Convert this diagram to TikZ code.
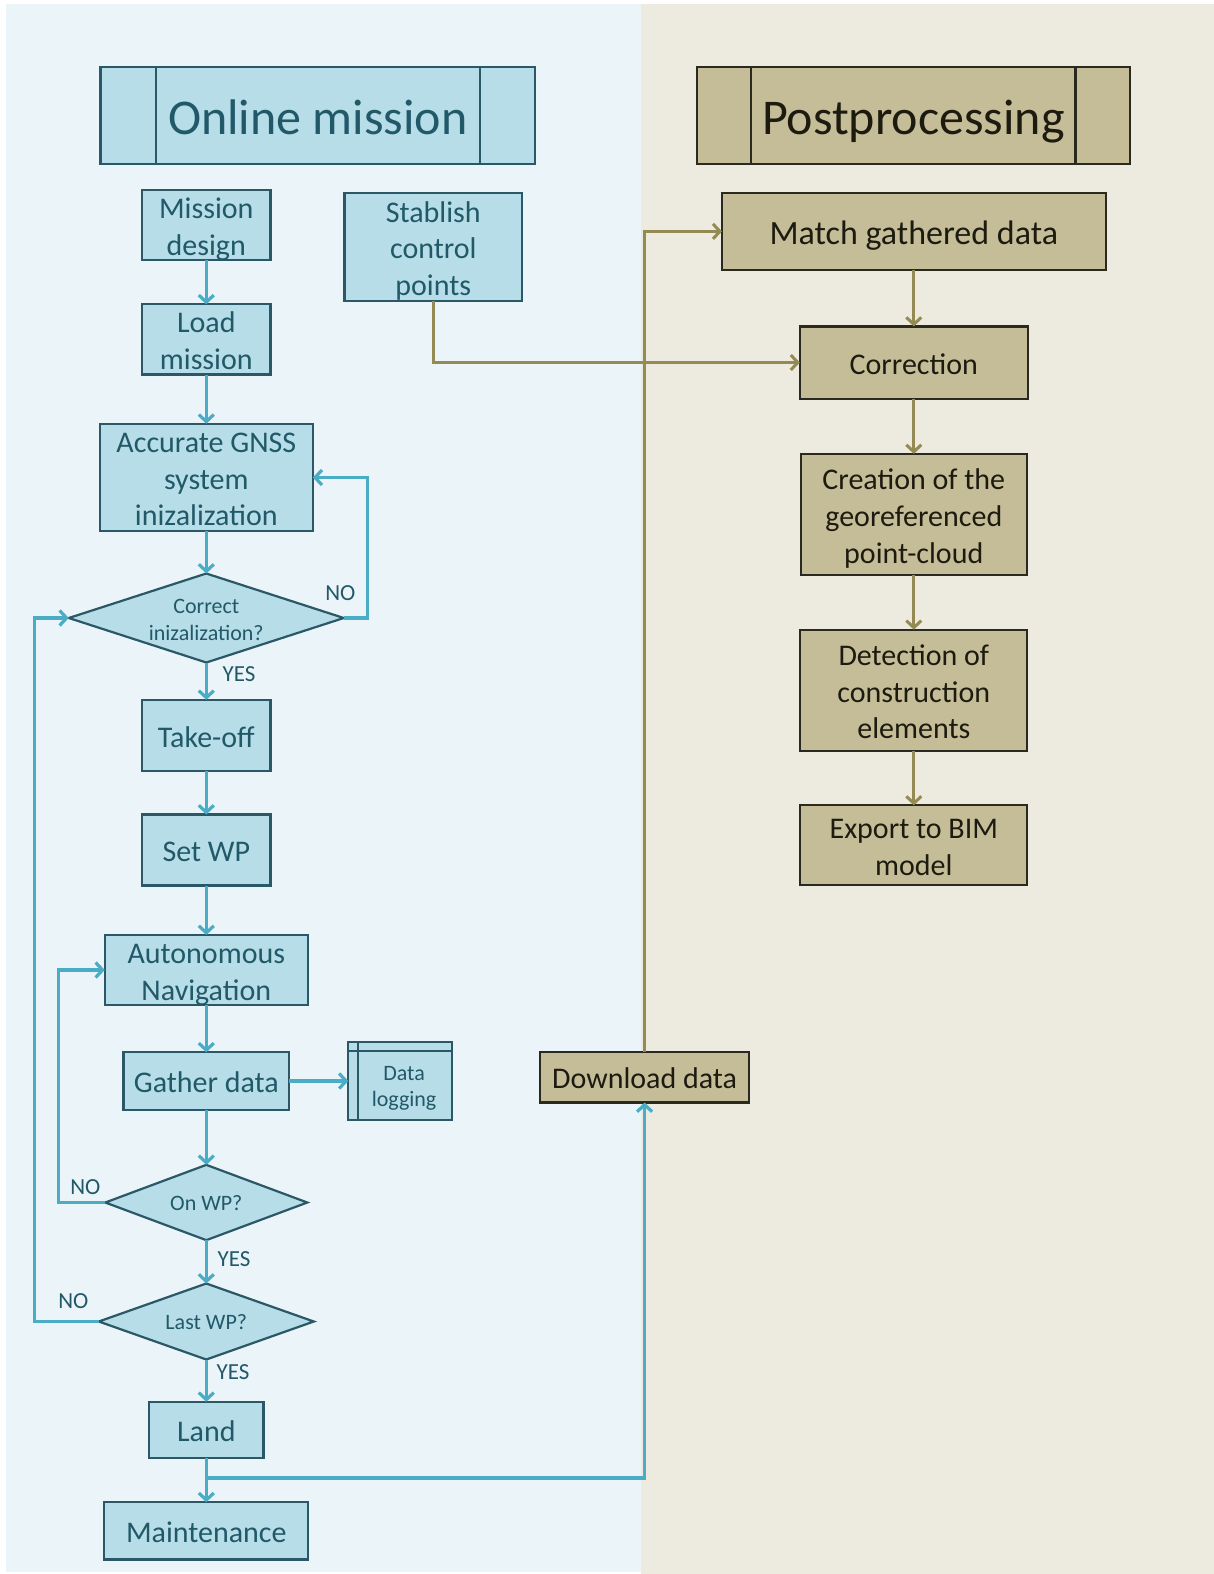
\documentclass[tikz,border=0pt]{standalone}
\usepackage{fontspec}
\setmainfont{Carlito}
\usetikzlibrary{arrows.meta,shapes.geometric}

\definecolor{panelblue}{HTML}{EBF4F8}
\definecolor{panelbeige}{HTML}{EDEAE0}
\definecolor{boxblue}{HTML}{B7DDE8}
\definecolor{edgeblue}{HTML}{2B5866}
\definecolor{textblue}{HTML}{215968}
\definecolor{flowblue}{HTML}{4BACC6}
\definecolor{boxtan}{HTML}{C4BD97}
\definecolor{edgetan}{HTML}{2A2920}
\definecolor{texttan}{HTML}{1D1B10}
\definecolor{flowtan}{HTML}{948A54}

\newcommand\fshead{\fontsize{50}{61}\selectfont}
\newcommand\fsbody{\fontsize{30}{36.6}\selectfont}
\newcommand\fsbig{\fontsize{34}{41.5}\selectfont}
\newcommand\fsdia{\fontsize{22}{26.6}\selectfont}
\newcommand\fslbl{\fontsize{23}{28}\selectfont}
% strut that sets the height of the first line of a multi-line label
\newcommand\leadstrut[1][1.09em]{\rule{0pt}{#1}}

\tikzset{
  % top strut on the first line, bottom strut on the last line
  struts/.style={execute at begin node={\rule{0pt}{#1}},
    execute at end node={\rule[-0.3em]{0pt}{0.3em}}},
  struts/.default=1.067em,
  % boxes keep their given size; negative ysep lets the struts overhang
  bluebox/.style={draw=edgeblue, fill=boxblue, line width=2.2pt, text=textblue,
    align=center, inner xsep=0pt, inner ysep=-20pt, outer sep=0pt, font=\fsbody, struts},
  tanbox/.style={draw=edgetan, fill=boxtan, line width=2.2pt, text=texttan,
    align=center, inner xsep=0pt, inner ysep=-20pt, outer sep=0pt, font=\fsbody, struts},
  bluedia/.style={diamond, draw=edgeblue, fill=boxblue, line width=2.2pt,
    inner sep=0pt, outer sep=0pt},
  diatext/.style={text=textblue, align=center, font=\fsdia, inner sep=0pt, struts},
  lbl/.style={text=textblue, font=\fslbl, inner sep=0pt},
  bluearrow/.style={draw=flowblue, line width=3.2pt,
    -{Straight Barb[length=7pt,width=15pt]}},
  tanarrow/.style={draw=flowtan, line width=3pt,
    -{Straight Barb[length=7pt,width=15pt]}},
}

\begin{document}
\begin{tikzpicture}[x=1pt,y=-1pt]
  \useasboundingbox (0,0) rectangle (1214,1574);
  % panels
  \fill[white] (0,0) rectangle (1214,1574);
  \fill[panelblue] (6,4) rectangle (640.6,1572);
  \fill[panelbeige] (640.6,4) rectangle (1214,1574);

  % headers
  \node[bluebox, minimum width=434.8, minimum height=96.4, font=\fshead]
    (hon) at (317.8,115.5) {Online mission};
  \draw[edgeblue, line width=2.2pt] ([xshift=55.2]hon.north west) -- ([xshift=55.2]hon.south west);
  \draw[edgeblue, line width=2.2pt] ([xshift=-55.2]hon.north east) -- ([xshift=-55.2]hon.south east);
  \node[tanbox, minimum width=432.8, minimum height=96.4, font=\fshead]
    (hpp) at (913.3,115.5) {Postprocessing};
  \draw[edgetan, line width=2.2pt] ([xshift=54.2]hpp.north west) -- ([xshift=54.2]hpp.south west);
  \draw[edgetan, line width=2.2pt] ([xshift=-54.2]hpp.north east) -- ([xshift=-54.2]hpp.south east);

  % online mission column
  \node[bluebox, minimum width=128.5, minimum height=70.3] (md) at (206.3,225) {\leadstrut Mission\\design};
  \node[bluebox, minimum width=177.8, minimum height=108.4] (sp) at (433.3,247) {\leadstrut Stablish\\control\\points};
  \node[bluebox, minimum width=128.5, minimum height=70.2] (lm) at (206.3,339.4) {\leadstrut Load\\mission};
  \node[bluebox, minimum width=213, minimum height=107.5] (gnss) at (206.3,477.5) {\leadstrut Accurate GNSS\\system\\inizalization};
  \node[bluedia, minimum width=275, minimum height=89] (d1) at (206.3,618) {};
  \node[diatext] (d1t) at (d1) {\leadstrut[1.1em]Correct\\inizalization?};
  \node[bluebox, minimum width=128.5, minimum height=71.3] (tk) at (206.3,735.5) {Take-off};
  \node[bluebox, minimum width=128.5, minimum height=71] (swp) at (206.3,850) {Set WP};
  \node[bluebox, minimum width=203, minimum height=70] (an) at (206.3,970) {\leadstrut Autonomous\\Navigation};
  \node[bluebox, minimum width=165.7, minimum height=57.3] (gd) at (206.3,1081) {Gather data};
  \node[bluebox, minimum width=103.5, minimum height=77.3, font=\fsdia] (dl) at (400.1,1081) {\leadstrut[1.43em]\hspace*{8pt}Data\\\hspace*{8pt}logging};
  \draw[edgeblue, line width=2.2pt] ([xshift=10]dl.north west) -- ([xshift=10]dl.south west);
  \draw[edgeblue, line width=2.2pt] ([yshift=-9]dl.north west) -- ([yshift=-9]dl.north east);
  \node[bluedia, minimum width=202, minimum height=75.3] (d2) at (206.3,1202.5) {};
  \node[diatext] (d2t) at (d2) {On WP?};
  \node[bluedia, minimum width=215, minimum height=76] (d3) at (206.3,1321.5) {};
  \node[diatext] (d3t) at (d3) {Last WP?};
  \node[bluebox, minimum width=114.5, minimum height=56.2] (land) at (206.3,1429.9) {Land};
  \node[bluebox, minimum width=204, minimum height=57.2] (mt) at (206.3,1530.8) {Maintenance};

  % postprocessing column
  \node[tanbox, minimum width=208.9, minimum height=50.2] (dd) at (644.6,1077.4) {Download data};
  \node[tanbox, minimum width=383.6, minimum height=77.3, font=\fsbig] (mg) at (913.8,231.4) {Match gathered data};
  \node[tanbox, minimum width=227.9, minimum height=72.2] (cor) at (913.8,362.5) {Correction};
  \node[tanbox, minimum width=225.9, minimum height=121.5] (cr) at (913.8,514.6) {\leadstrut Creation of the\\georeferenced\\point-cloud};
  \node[tanbox, minimum width=226.9, minimum height=121.5] (det) at (913.8,690.4) {\leadstrut Detection of\\construction\\elements};
  \node[tanbox, minimum width=226.9, minimum height=79.3] (exp) at (913.8,845) {\leadstrut Export to BIM\\model};

  % labels
  \node[lbl] (no1) at (340.4,593.4) {NO};
  \node[lbl] (yes1) at (239,673.8) {YES};
  \node[lbl] (no2) at (85.4,1186.9) {NO};
  \node[lbl] (yes2) at (234,1259.2) {YES};
  \node[lbl] (no3) at (73.3,1301.4) {NO};
  \node[lbl] (yes3) at (233,1371.7) {YES};

  % online flow
  \draw[bluearrow] (md.south) -- (lm.north);
  \draw[bluearrow] (lm.south) -- (gnss.north);
  \draw[bluearrow] (gnss.south) -- (d1.north);
  \draw[bluearrow] (d1.east) -- ++(24,0) |- (gnss.east);
  \draw[bluearrow] (d1.south) -- (tk.north);
  \draw[bluearrow] (tk.south) -- (swp.north);
  \draw[bluearrow] (swp.south) -- (an.north);
  \draw[bluearrow] (an.south) -- (gd.north);
  \draw[bluearrow] (gd.east) -- (dl.west);
  \draw[bluearrow] (gd.south) -- (d2.north);
  \draw[bluearrow] (d2.west) -- ++(-47,0) |- (an.west);
  \draw[bluearrow] (d2.south) -- (d3.north);
  \draw[bluearrow] (d3.west) -- ++(-64.7,0) |- (d1.west);
  \draw[bluearrow] (d3.south) -- (land.north);
  \draw[bluearrow] (land.south) -- (mt.north);
  \coordinate (split) at ([yshift=-20]land.south);
  \draw[bluearrow] (split) -| (dd.south);

  % postprocessing flow
  \draw[tanarrow] (dd.north) |- (mg.west);
  \draw[tanarrow] (sp.south) |- (cor.west);
  \draw[tanarrow] (mg.south) -- (cor.north);
  \draw[tanarrow] (cor.south) -- (cr.north);
  \draw[tanarrow] (cr.south) -- (det.north);
  \draw[tanarrow] (det.south) -- (exp.north);
\end{tikzpicture}
\end{document}
